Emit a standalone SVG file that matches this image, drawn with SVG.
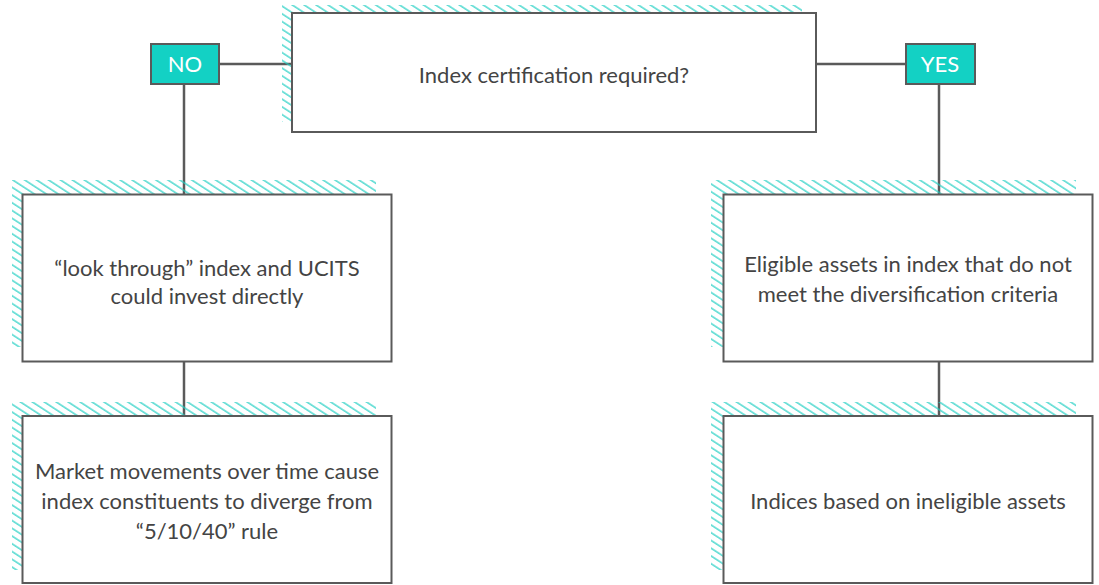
<svg xmlns="http://www.w3.org/2000/svg" width="1099" height="585" viewBox="0 0 1099 585">
<style>
.box{fill:#fff;stroke:#5a5a5a;stroke-width:2}
.tag{fill:#13d1c4;stroke:#5a5a5a;stroke-width:2}
.hatch{fill:url(#h)}
.t{font-family:Lato,"Open Sans",sans-serif;font-size:22px;fill:#444;text-anchor:middle}
.tt{font-family:Lato,"Open Sans",sans-serif;font-size:22px;fill:#fff;text-anchor:middle}
.c{stroke:#5a5a5a;stroke-width:2.5;fill:none}
</style>
<defs>
<pattern id="h" width="6.5" height="6.5" patternUnits="userSpaceOnUse" patternTransform="rotate(33)">
<line x1="0" y1="1" x2="6.5" y2="1" stroke="#22cfc3" stroke-width="1.2"/>
</pattern>
</defs>
<g id="connectors">
<path class="c" d="M219,64 H292"/>
<path class="c" d="M817,64 H906"/>
<path class="c" d="M184,84 V194"/>
<path class="c" d="M939,84 V194"/>
<path class="c" d="M184,361 V416"/>
<path class="c" d="M939,361 V416"/>
</g>
<g id="q">
<path class="hatch" d="M282,5 H802 V13 H292 V122 H282 Z"/>
<rect class="box" x="292" y="13" width="524" height="119"/>
<text class="t" x="554" y="83">Index certification required?</text>
</g>
<g id="no">
<rect class="tag" x="151" y="44" width="68" height="40"/>
<text class="tt" x="185" y="72">NO</text>
</g>
<g id="yes">
<rect class="tag" x="906" y="44" width="69" height="40"/>
<text class="tt" x="940" y="72">YES</text>
</g>
<g id="n1">
<path class="hatch" d="M12,180 H376 V194 H22 V347 H12 Z"/>
<rect class="box" x="22.5" y="194.5" width="369" height="167"/>
<text class="t" x="207" y="276">“look through” index and UCITS</text>
<text class="t" x="207" y="304">could invest directly</text>
</g>
<g id="n2">
<path class="hatch" d="M12,402 H376 V416 H22 V570 H12 Z"/>
<rect class="box" x="22.5" y="416" width="369" height="167"/>
<text class="t" x="207" y="479">Market movements over time cause</text>
<text class="t" x="207" y="509">index constituents to diverge from</text>
<text class="t" x="207" y="539">“5/10/40” rule</text>
</g>
<g id="y1">
<path class="hatch" d="M711,180 H1076 V194 H723 V347 H711 Z"/>
<rect class="box" x="723.5" y="194.5" width="369" height="167"/>
<text class="t" x="908" y="272">Eligible assets in index that do not</text>
<text class="t" x="908" y="302">meet the diversification criteria</text>
</g>
<g id="y2">
<path class="hatch" d="M711,402 H1076 V416 H723 V570 H711 Z"/>
<rect class="box" x="723.5" y="416" width="369" height="167"/>
<text class="t" x="908" y="509">Indices based on ineligible assets</text>
</g>
</svg>
